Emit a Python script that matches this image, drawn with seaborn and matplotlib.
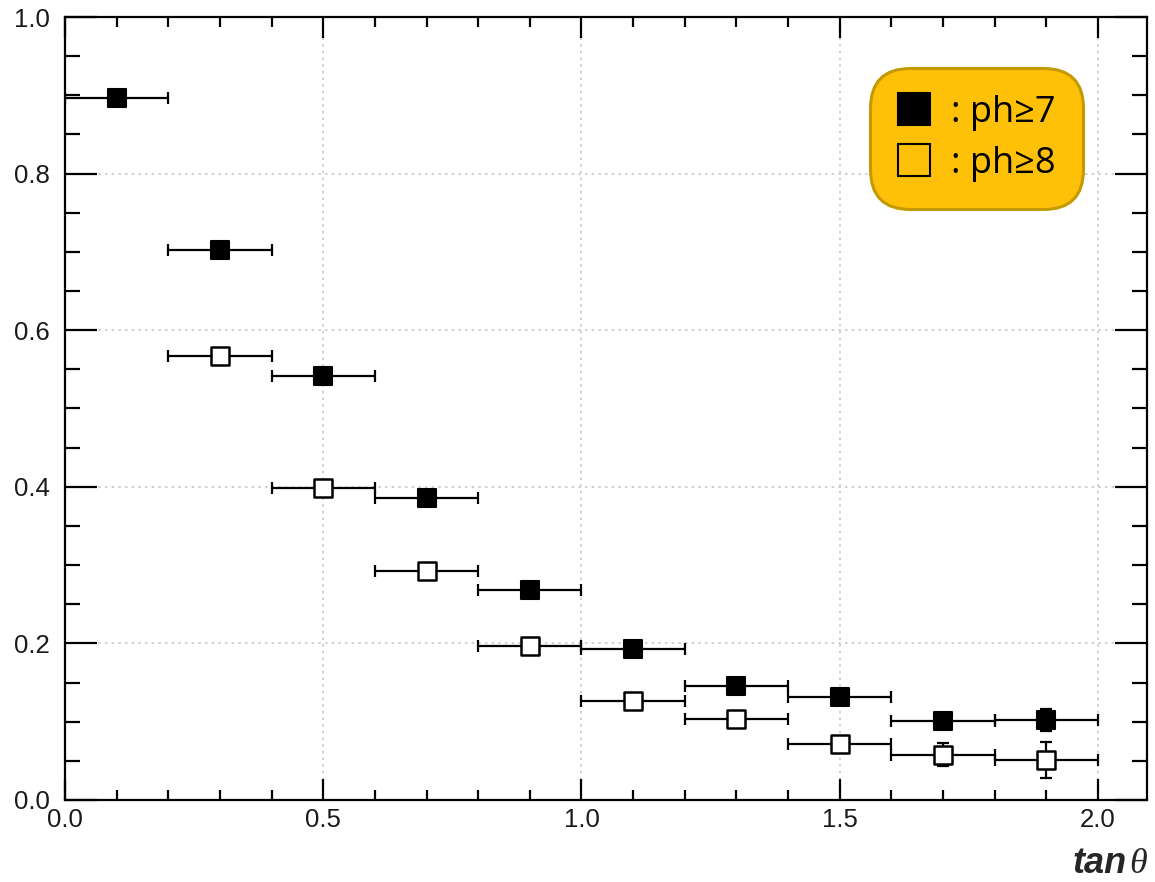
import matplotlib
matplotlib.use("Agg")
import matplotlib.pyplot as plt
from matplotlib.ticker import MultipleLocator, FormatStrFormatter
from matplotlib.lines import Line2D
import seaborn as sns
import pandas as pd

# ---- data ----
x_filled = [0.1, 0.3, 0.5, 0.7, 0.9, 1.1, 1.3, 1.5, 1.7, 1.9]
y_filled = [0.897, 0.702, 0.541, 0.386, 0.268, 0.193, 0.145, 0.131, 0.101, 0.102]
yerr_filled = [0.005, 0.005, 0.005, 0.005, 0.005, 0.005, 0.006, 0.006, 0.008, 0.014]

x_open = [0.3, 0.5, 0.7, 0.9, 1.1, 1.3, 1.5, 1.7, 1.9]
y_open = [0.567, 0.398, 0.292, 0.197, 0.126, 0.104, 0.071, 0.058, 0.051]
yerr_open = [0.005, 0.005, 0.005, 0.005, 0.006, 0.008, 0.008, 0.015, 0.023]

bin_half_width = 0.1
label_filled = ": ph\u22657"
label_open = ": ph\u22658"

sns.set_style("ticks")
plt.rcParams["font.family"] = ["Liberation Sans", "DejaVu Sans"]

fig = plt.figure(figsize=(11.55, 8.82), dpi=100)
ax = fig.add_axes([0.0563, 0.093, 0.9367, 0.8877])

df_f = pd.DataFrame({"x": x_filled, "y": y_filled})
df_o = pd.DataFrame({"x": x_open, "y": y_open})

ax.errorbar(x_filled, y_filled, xerr=bin_half_width, yerr=yerr_filled, fmt="none",
            ecolor="black", elinewidth=1.6, capsize=4, capthick=1.6, zorder=3)
ax.errorbar(x_open, y_open, xerr=bin_half_width, yerr=yerr_open, fmt="none",
            ecolor="black", elinewidth=1.6, capsize=4, capthick=1.6, zorder=3)

sns.scatterplot(data=df_f, x="x", y="y", marker="s", s=180, color="black",
                edgecolor="black", linewidth=1.5, ax=ax, zorder=4, legend=False)
sns.scatterplot(data=df_o, x="x", y="y", marker="s", s=180, color="white",
                edgecolor="black", linewidth=1.8, ax=ax, zorder=4, legend=False)

ax.set_xlim(0, 2.095)
ax.set_ylim(0, 1.0)
ax.xaxis.set_major_locator(MultipleLocator(0.5))
ax.xaxis.set_minor_locator(MultipleLocator(0.1))
ax.yaxis.set_major_locator(MultipleLocator(0.2))
ax.yaxis.set_minor_locator(MultipleLocator(0.05))
ax.xaxis.set_major_formatter(FormatStrFormatter("%.1f"))
ax.yaxis.set_major_formatter(FormatStrFormatter("%.1f"))

ax.tick_params(which="both", direction="in", top=True, right=True, color="black", width=1.6,
               labelsize=18.5, labelcolor="#1a1a1a")
ax.tick_params(axis="x", which="major", length=15, pad=6)
ax.tick_params(axis="x", which="minor", length=7.5)
ax.tick_params(axis="y", which="major", length=23, pad=11)
ax.tick_params(axis="y", which="minor", length=11)
for sp in ax.spines.values():
    sp.set_linewidth(1.6)
    sp.set_color("black")

ax.grid(True, which="major", linestyle=(0, (1.5, 2.5)), color="#c8c8c8", linewidth=1.2)
ax.set_axisbelow(True)

ax.set_xlabel("")
ax.set_ylabel("")
fig.text(1147 / 1155, 1 - 873 / 882, "\u03b8", ha="right", va="baseline", fontsize=26,
         family="Liberation Serif", style="italic")
fig.text(1127 / 1155, 1 - 873 / 882, "tan", ha="right", va="baseline", fontsize=26,
         family="Liberation Sans", style="italic", weight="bold")

handles = [
    Line2D([], [], marker="s", linestyle="none", markersize=23, markerfacecolor="black",
           markeredgecolor="black", markeredgewidth=1.5),
    Line2D([], [], marker="s", linestyle="none", markersize=23, markerfacecolor="none",
           markeredgecolor="black", markeredgewidth=1.5),
]
leg = ax.legend(handles, [label_filled, label_open], loc="upper left",
                bbox_to_anchor=((870 - 65) / (1147 - 65), 1 - (68 - 17) / (800 - 17)),
                frameon=True, fancybox=True,
                facecolor="#FFC107", edgecolor="#C39A00", framealpha=1,
                prop={"family": ["Open Sans", "DejaVu Sans"], "size": 26},
                handlelength=0.95, handletextpad=0.55, labelspacing=0.4,
                borderpad=0.75, borderaxespad=0)
for t in leg.get_texts():
    t.set_color("black")
leg.get_frame().set_linewidth(2.2)
leg.get_frame().set_boxstyle("round,pad=0.0,rounding_size=1.1")

fig.savefig("out.png", dpi=100)
